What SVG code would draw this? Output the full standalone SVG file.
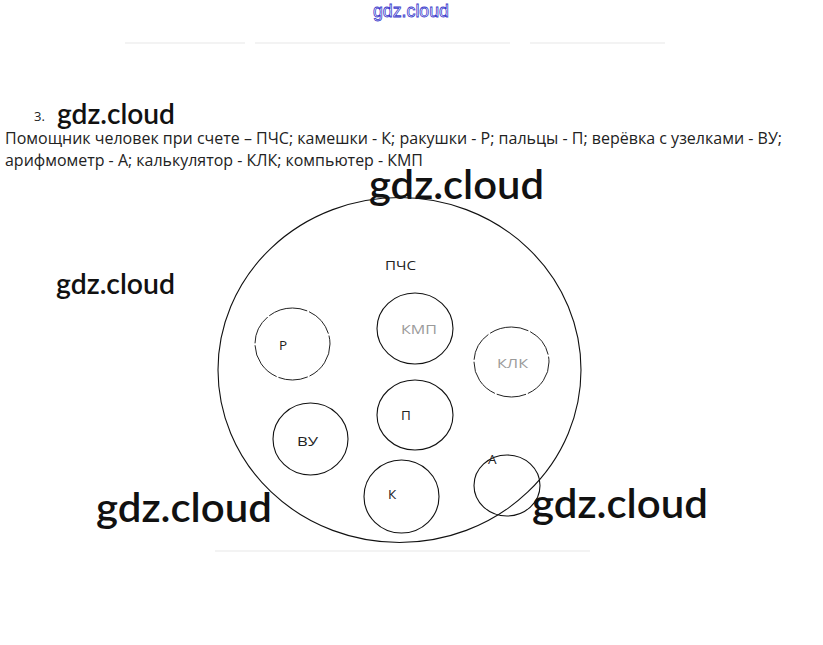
<svg xmlns="http://www.w3.org/2000/svg" width="823" height="645" viewBox="0 0 823 645">
<style>
.wm{font-family:Lato,"Open Sans","Noto Sans",sans-serif;font-weight:600;fill:#111}
.body{font-family:"Open Sans","Noto Sans","DejaVu Sans",sans-serif;font-size:15.5px;fill:#222}
.lbl{font-family:"Open Sans","Noto Sans","DejaVu Sans",sans-serif;font-size:13.5px;fill:#222}
.faint{fill:#9a9a9a}
.c{fill:none;stroke:#111;stroke-width:1.1}
.cd{fill:none;stroke:#222;stroke-width:1}
.ghost{stroke:#f3f3f3;stroke-width:2}
</style>
<rect width="823" height="645" fill="#fff"/>
<text x="373" y="17" font-family="Liberation Sans,Arial,sans-serif" font-size="18" fill="#fff" stroke="#3a3acc" stroke-width="0.8" textLength="76" lengthAdjust="spacingAndGlyphs">gdz.cloud</text>
<g id="artifacts">
<line class="ghost" x1="125" y1="43" x2="245" y2="43"/>
<line class="ghost" x1="255" y1="43" x2="510" y2="43"/>
<line class="ghost" x1="530" y1="43" x2="665" y2="43"/>
<line class="ghost" x1="215" y1="551" x2="590" y2="551"/>
</g>
<text x="34" y="121" font-family="Open Sans,sans-serif" font-size="13" fill="#222">3.</text>
<text class="wm" x="57" y="124" font-size="28" textLength="118" lengthAdjust="spacingAndGlyphs">gdz.cloud</text>
<text class="body" x="5" y="144" textLength="777" lengthAdjust="spacingAndGlyphs">Помощник человек при счете – ПЧС; камешки - К; ракушки - Р; пальцы - П; верёвка с узелками - ВУ;</text>
<text class="body" x="5" y="166" textLength="418" lengthAdjust="spacingAndGlyphs">арифмометр - А; калькулятор - КЛК; компьютер - КМП</text>
<g id="ПЧС">
<ellipse class="c" cx="399.5" cy="370" rx="181.5" ry="172.5"/>
<text class="lbl" x="385" y="270" textLength="31" lengthAdjust="spacingAndGlyphs">ПЧС</text>
</g>
<g id="Р">
<ellipse class="cd" cx="292.5" cy="344" rx="37.5" ry="36" stroke-dasharray="40 2 30 2"/>
<text class="lbl" x="279" y="350">Р</text>
</g>
<g id="КМП">
<ellipse class="c" cx="415" cy="328.5" rx="38" ry="35.5"/>
<text class="lbl faint" x="401" y="334" textLength="36" lengthAdjust="spacingAndGlyphs">КМП</text>
</g>
<g id="КЛК">
<ellipse class="cd" cx="511.5" cy="362" rx="37.5" ry="35" stroke-dasharray="40 2 30 2"/>
<text class="lbl faint" x="497" y="368" textLength="31" lengthAdjust="spacingAndGlyphs">КЛК</text>
</g>
<g id="П">
<ellipse class="c" cx="415" cy="415" rx="38" ry="35"/>
<text class="lbl" x="401" y="420">П</text>
</g>
<g id="ВУ">
<ellipse class="c" cx="310.5" cy="439" rx="37.5" ry="36"/>
<text class="lbl" x="297" y="446" textLength="21" lengthAdjust="spacingAndGlyphs">ВУ</text>
</g>
<g id="А">
<ellipse class="c" cx="507" cy="485.5" rx="33" ry="30.5"/>
<text class="lbl" x="488" y="464">А</text>
</g>
<g id="К">
<ellipse class="c" cx="401.5" cy="496.5" rx="37.5" ry="36.5"/>
<text class="lbl" x="388" y="499">К</text>
</g>
<g id="connectors"></g>
<text class="wm" x="369" y="199" font-size="40" textLength="175" lengthAdjust="spacingAndGlyphs">gdz.cloud</text>
<text class="wm" x="56" y="294" font-size="28" textLength="119" lengthAdjust="spacingAndGlyphs">gdz.cloud</text>
<text class="wm" x="96" y="522" font-size="40" textLength="176" lengthAdjust="spacingAndGlyphs">gdz.cloud</text>
<text class="wm" x="532" y="518" font-size="40" textLength="176" lengthAdjust="spacingAndGlyphs">gdz.cloud</text>
</svg>
